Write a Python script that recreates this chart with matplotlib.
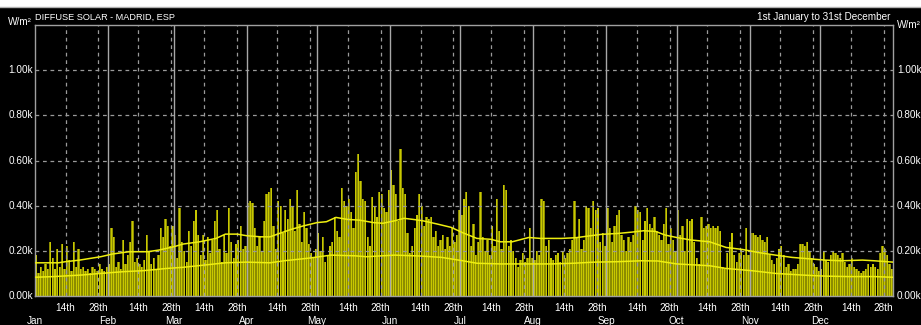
import matplotlib
matplotlib.use("Agg")
import matplotlib.pyplot as plt
from matplotlib.patches import Rectangle
from matplotlib.lines import Line2D

# Daily peak diffuse irradiance (kW/m², shown as "k"), one value per day
jan = [0.18, 0.10, 0.13, 0.11, 0.14, 0.12, 0.24, 0.17, 0.12, 0.21, 0.13, 0.23, 0.12, 0.22, 0.16, 0.11,
       0.24, 0.13, 0.21, 0.12, 0.13, 0.11, 0.12, 0.10, 0.13, 0.12, 0.11, 0.14, 0.12, 0.11, 0.13]
feb = [0.14, 0.30, 0.26, 0.13, 0.15, 0.12, 0.25, 0.14, 0.18, 0.24, 0.33, 0.15, 0.17, 0.14, 0.13, 0.16,
       0.27, 0.20, 0.14, 0.17, 0.12, 0.18, 0.30, 0.26, 0.34, 0.31, 0.22, 0.31]
mar = [0.27, 0.17, 0.39, 0.24, 0.20, 0.15, 0.29, 0.22, 0.33, 0.38, 0.27, 0.18, 0.27, 0.16, 0.26, 0.19,
       0.25, 0.33, 0.38, 0.21, 0.15, 0.27, 0.19, 0.39, 0.24, 0.17, 0.23, 0.25, 0.31, 0.21, 0.22]
apr = [0.41, 0.42, 0.41, 0.30, 0.22, 0.26, 0.20, 0.33, 0.45, 0.46, 0.48, 0.31, 0.21, 0.42, 0.40, 0.28,
       0.38, 0.34, 0.43, 0.40, 0.29, 0.47, 0.32, 0.24, 0.37, 0.30, 0.23, 0.19, 0.17, 0.21]
may = [0.28, 0.20, 0.26, 0.15, 0.18, 0.22, 0.24, 0.35, 0.29, 0.26, 0.48, 0.42, 0.40, 0.43, 0.37, 0.30,
       0.55, 0.63, 0.51, 0.43, 0.42, 0.26, 0.22, 0.44, 0.40, 0.35, 0.46, 0.45, 0.39, 0.37, 0.47]
jun = [0.56, 0.49, 0.45, 0.33, 0.65, 0.48, 0.45, 0.28, 0.19, 0.22, 0.30, 0.36, 0.45, 0.40, 0.31, 0.35,
       0.34, 0.35, 0.26, 0.29, 0.22, 0.25, 0.27, 0.21, 0.26, 0.22, 0.30, 0.24, 0.27, 0.38]
jul = [0.36, 0.43, 0.46, 0.40, 0.22, 0.32, 0.18, 0.24, 0.46, 0.26, 0.20, 0.25, 0.18, 0.31, 0.22, 0.43,
       0.29, 0.21, 0.49, 0.47, 0.22, 0.25, 0.20, 0.17, 0.13, 0.16, 0.19, 0.15, 0.17, 0.30, 0.17]
aug = [0.16, 0.20, 0.18, 0.43, 0.42, 0.22, 0.25, 0.17, 0.16, 0.18, 0.19, 0.15, 0.20, 0.17, 0.19, 0.21,
       0.25, 0.42, 0.26, 0.34, 0.21, 0.25, 0.40, 0.39, 0.30, 0.42, 0.38, 0.39, 0.24, 0.28, 0.22]
sep = [0.39, 0.30, 0.24, 0.31, 0.36, 0.38, 0.27, 0.25, 0.20, 0.26, 0.24, 0.27, 0.40, 0.38, 0.37, 0.25,
       0.33, 0.39, 0.32, 0.30, 0.35, 0.29, 0.27, 0.25, 0.32, 0.39, 0.23, 0.30, 0.25, 0.20]
oct_ = [0.38, 0.27, 0.31, 0.20, 0.34, 0.33, 0.34, 0.24, 0.17, 0.14, 0.35, 0.30, 0.31, 0.32, 0.30, 0.31,
        0.30, 0.31, 0.29, 0.13, 0.12, 0.19, 0.24, 0.28, 0.18, 0.15, 0.19, 0.21, 0.18, 0.30, 0.18]
nov = [0.28, 0.28, 0.27, 0.26, 0.27, 0.25, 0.24, 0.26, 0.18, 0.16, 0.14, 0.17, 0.21, 0.22, 0.18, 0.13,
       0.14, 0.11, 0.12, 0.12, 0.14, 0.23, 0.23, 0.22, 0.24, 0.20, 0.17, 0.14, 0.13, 0.11]
dec = [0.12, 0.20, 0.16, 0.15, 0.18, 0.20, 0.19, 0.18, 0.17, 0.19, 0.15, 0.13, 0.14, 0.17, 0.13, 0.12,
       0.11, 0.10, 0.11, 0.12, 0.14, 0.13, 0.14, 0.13, 0.12, 0.19, 0.22, 0.21, 0.18, 0.14, 0.12]
daily_peak = jan + feb + mar + apr + may + jun + jul + aug + sep + oct_ + nov + dec

# Smoothed daily maximum (upper trace) and daily mean (lower trace), by day of year
upper_days = [0, 10, 13, 19, 28, 33, 40, 48, 53, 59, 63, 70, 77, 81, 86, 90, 96, 100, 104, 109, 114,
              120, 124, 128, 133, 138, 144, 148, 153, 157, 161, 165, 171, 177, 182, 188, 194, 198, 203,
              210, 215, 224, 230, 235, 241, 248, 254, 259, 264, 268, 273, 279, 287, 294, 301, 308, 315,
              322, 329, 336, 343, 352, 357, 365]
upper_vals = [0.147, 0.147, 0.152, 0.159, 0.174, 0.186, 0.196, 0.196, 0.204, 0.218, 0.230, 0.240, 0.255,
              0.274, 0.274, 0.267, 0.262, 0.262, 0.277, 0.295, 0.310, 0.325, 0.329, 0.348, 0.339, 0.336,
              0.325, 0.322, 0.333, 0.344, 0.339, 0.333, 0.319, 0.304, 0.280, 0.255, 0.251, 0.240, 0.240,
              0.259, 0.255, 0.255, 0.258, 0.265, 0.273, 0.277, 0.283, 0.289, 0.286, 0.270, 0.259, 0.248,
              0.240, 0.215, 0.206, 0.192, 0.181, 0.171, 0.165, 0.159, 0.156, 0.159, 0.156, 0.150]
lower_days = [0, 8, 20, 28, 38, 46, 56, 63, 73, 81, 90, 100, 106, 116, 126, 136, 141, 153, 164, 173,
              182, 188, 198, 210, 220, 229, 238, 248, 258, 265, 273, 287, 294, 305, 315, 326, 336, 346,
              357, 365]
lower_vals = [0.083, 0.086, 0.093, 0.100, 0.108, 0.112, 0.122, 0.127, 0.138, 0.147, 0.150, 0.147, 0.156,
              0.167, 0.181, 0.178, 0.174, 0.181, 0.177, 0.171, 0.156, 0.145, 0.142, 0.142, 0.142, 0.145,
              0.150, 0.152, 0.156, 0.155, 0.142, 0.134, 0.122, 0.112, 0.100, 0.093, 0.088, 0.086, 0.086,
              0.083]

month_names = ["Jan", "Feb", "Mar", "Apr", "May", "Jun", "Jul", "Aug", "Sep", "Oct", "Nov", "Dec"]
month_lengths = [31, 28, 31, 30, 31, 30, 31, 31, 30, 31, 30, 31]
y_ticks = [0.0, 0.2, 0.4, 0.6, 0.8, 1.0]
y_labels = ["0.00k", "0.20k", "0.40k", "0.60k", "0.80k", "1.00k"]

plt.rcParams["font.family"] = ["Liberation Sans", "DejaVu Sans"]
W, H = 921, 325
fig = plt.figure(figsize=(W / 100, H / 100), dpi=100, facecolor="black")
ax = fig.add_axes([35 / W, 29 / H, (893 - 35) / W, (296 - 25) / H])
ax.set_facecolor("black")

month_starts = []
acc = 0
for n in month_lengths:
    month_starts.append(acc)
    acc += n

days = [d + 0.5 for d in range(len(daily_peak))]
# wide darker body plus a bright narrow core for each day
ax.bar(days, daily_peak, width=0.95, color="#8c8c00", edgecolor="none", zorder=1)
ax.bar(days, daily_peak, width=0.45, color="#c8c800", edgecolor="none", zorder=1.5)

grid_col = "#9a9a9a"
# horizontal dashed grid
for v in y_ticks[1:]:
    ax.axhline(v, color=grid_col, lw=0.9, ls=(0, (3, 3)), zorder=2)
# month boundaries solid, 14th / 28th dashed
for s in month_starts[1:]:
    ax.axvline(s, color="#a8a8a8", lw=1.0, zorder=2)
minor_pos, minor_lab = [], []
for s in month_starts:
    for d, lab in ((13, "14th"), (27, "28th")):
        minor_pos.append(s + d)
        minor_lab.append(lab)
        ax.axvline(s + d, color=grid_col, lw=0.9, ls=(0, (3, 3)), zorder=2)

ax.plot(upper_days, upper_vals, color="#eeee10", lw=1.1, zorder=3)
ax.plot(lower_days, lower_vals, color="#eeee10", lw=1.1, zorder=3)

ax.set_xlim(0, 365)
ax.set_ylim(0, 1.2)
for sp in ax.spines.values():
    sp.set_color("#a0a0a0")
    sp.set_linewidth(1.0)

ax.set_xticks([])
ax.set_yticks([])
ax.tick_params(length=0)

txt = dict(color="white", fontsize=7.2)
# y labels on both sides
for v, lab in zip(y_ticks, y_labels):
    ax.text(-2 / 858 * 365, v, lab, ha="right", va="center", **txt)
    ax.text(365 + 4 / 858 * 365, v, lab, ha="left", va="center", **txt)

# day-of-month labels and month names
for p, lab in zip(minor_pos, minor_lab):
    ax.text(p, -0.055, lab, ha="center", va="center", **txt)
for s, lab in zip(month_starts, month_names):
    ax.text(s, -0.11, lab, ha="center", va="center", **txt)

fig.text(8 / W, 1 - 22 / H, "W/m²", ha="left", va="center", **txt)
fig.text(897 / W, 1 - 25 / H, "W/m²", ha="left", va="center", **txt)
fig.text(35 / W, 1 - 17 / H, "DIFFUSE SOLAR - MADRID, ESP", ha="left", va="center",
         color="white", fontsize=6.6)
fig.text(890 / W, 1 - 17 / H, "1st January to 31st December", ha="right", va="center", **txt)

# light strip along the top edge
fig.add_artist(Rectangle((0, 1 - 7 / H), 1, 7 / H, transform=fig.transFigure,
                         facecolor="white", edgecolor="none"))
fig.add_artist(Line2D([0, 1], [1 - 7 / H, 1 - 7 / H], transform=fig.transFigure,
                      color="#b0b0b0", lw=1))

fig.savefig("out.png", dpi=100, facecolor="black")
